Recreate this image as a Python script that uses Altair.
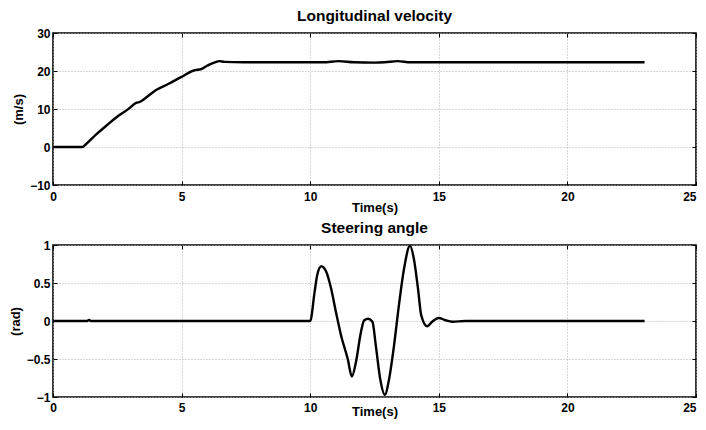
import altair as alt
import pandas as pd

# Longitudinal velocity (m/s) vs time (s)
vel_t = [0, 1.14, 1.29, 1.68, 2.07, 2.52, 2.91, 3.23, 3.39, 3.56, 4.01, 4.46, 4.98,
         5.50, 5.76, 6.02, 6.27, 6.47, 6.66, 7.4, 10.5, 11.1, 11.7, 12.5, 12.9,
         13.4, 13.9, 14.5, 23.0]
vel_v = [0, 0, 0.8, 3.3, 5.6, 8.1, 9.9, 11.6, 11.9, 12.7, 15.0, 16.5, 18.4,
         20.2, 20.5, 21.5, 22.2, 22.6, 22.4, 22.3, 22.3, 22.6, 22.3, 22.2, 22.3,
         22.6, 22.3, 22.3, 22.3]

# Steering angle (rad) vs time (s)
st_t = [0, 1.33, 1.4, 1.47, 10.0, 10.17, 10.27, 10.43, 10.62, 10.81, 11.0, 11.2,
        11.46, 11.62, 11.78, 11.97, 12.1, 12.26, 12.42, 12.55, 12.72, 12.9, 13.07,
        13.26, 13.45, 13.65, 13.88, 14.03, 14.19, 14.32, 14.55, 14.74, 15.0, 15.26,
        15.52, 16.03, 23.0]
st_v = [0, 0, 0.015, 0, 0, 0.38, 0.60, 0.72, 0.65, 0.43, 0.12, -0.19,
        -0.50, -0.73, -0.54, -0.15, 0.01, 0.03, -0.01, -0.32, -0.76, -0.97, -0.76,
        -0.32, 0.21, 0.69, 0.99, 0.82, 0.43, 0.07, -0.07, -0.01, 0.04, 0.01,
        -0.01, 0, 0]

x_ticks = [0, 5, 10, 15, 20, 25]
vel_ticks = [-10, 0, 10, 20, 30]
st_ticks = [-1, -0.5, 0, 0.5, 1]

vel_df = pd.DataFrame({"t": vel_t, "v": vel_v})
st_df = pd.DataFrame({"t": st_t, "v": st_v})

FONT = "Liberation Sans"
W, H = 643, 152
TK = 4  # inward tick length

last_right = {"condition": {"test": f"datum.value >= {x_ticks[-1]}", "value": "right"},
              "value": "center"}


def panel(df, title, ylabel, ydom, yticks, yfmt, lpad, tpad):
    xs = alt.Scale(domain=[0, 25], nice=False)
    ys = alt.Scale(domain=ydom, nice=False)
    main = alt.Chart(df).mark_line(
        color="black", strokeWidth=2.4, interpolate="monotone"
    ).encode(
        x=alt.X("t:Q", scale=xs,
                axis=alt.Axis(values=x_ticks, title="Time(s)", grid=True,
                              tickSize=TK, offset=-TK, labelPadding=lpad,
                              labelAlign=last_right,
                              titlePadding=tpad, domain=False)),
        y=alt.Y("v:Q", scale=ys,
                axis=alt.Axis(values=yticks, title=ylabel, grid=True,
                              tickSize=TK, offset=-TK, format=yfmt,
                              labelPadding=3, titlePadding=4, domain=False)),
    )
    frame_ticks = alt.Chart(df).mark_line(
        color="black", strokeWidth=2.4, interpolate="monotone", strokeOpacity=0
    ).encode(
        x=alt.X("t:Q", scale=xs,
                axis=alt.Axis(values=x_ticks, orient="top", title=None, grid=False,
                              labels=False, tickSize=TK, offset=-TK, domain=False)),
        y=alt.Y("v:Q", scale=ys,
                axis=alt.Axis(values=yticks, orient="right", title=None, grid=False,
                              labels=False, tickSize=TK, offset=-TK, domain=False)),
    )
    return alt.layer(main, frame_ticks).resolve_axis(
        x="independent", y="independent"
    ).properties(
        width=W, height=H,
        title=alt.Title(title, fontSize=15.5, fontWeight="bold", font=FONT,
                        offset=3, frame="group"),
    )


top = panel(vel_df, "Longitudinal velocity", "(m/s)", [-10, 30], vel_ticks, "d", 6, -1)
bot = panel(st_df, "Steering angle", "(rad)", [-1, 1], st_ticks, ".1~f", 5, -8)

chart = alt.vconcat(top, bot, spacing=4).properties(
    padding={"left": 0, "top": -1, "right": 0, "bottom": 0},
    background="white",
).configure_view(
    stroke="black", strokeWidth=1.6
).configure_axis(
    labelFont=FONT, labelFontSize=12, labelFontWeight="bold", labelColor="black",
    titleFont=FONT, titleFontSize=13, titleFontWeight="bold", titleColor="black",
    gridColor="#b0b0b0", gridDash=[1, 2], gridWidth=1, labelFlush=False,
    tickColor="black", tickWidth=1,
)

chart.save("out.html", embed_options={"renderer": "svg", "actions": False})
